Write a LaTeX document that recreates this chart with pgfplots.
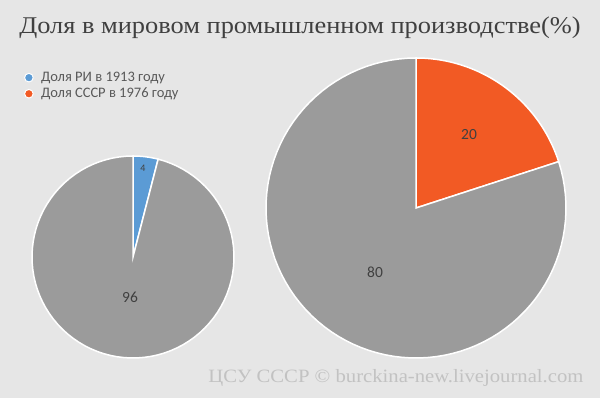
\documentclass[border=0pt]{standalone}
\usepackage{fontspec}
\setmainfont{Liberation Serif}
\newfontfamily\carlito{Carlito}
\newfontfamily\titlefont[FakeStretch=1.1]{Liberation Serif}
\usepackage{pgfplots}
\pgfplotsset{compat=1.18}
\definecolor{bg}{HTML}{E6E6E6}
\definecolor{pgray}{HTML}{9B9B9B}
\definecolor{pblue}{HTML}{5B9BD5}
\definecolor{porange}{HTML}{F25A24}
\definecolor{ttl}{HTML}{404040}
\definecolor{legtxt}{HTML}{595959}
\definecolor{wm}{HTML}{C2C2C2}
% slice: cx, cy, r, start share (%), end share (%), colour
\newcommand{\slice}[6]{%
  \pgfmathsetmacro{\angA}{90-3.6*#5}%
  \pgfmathsetmacro{\angB}{90-3.6*#4}%
  \addplot[fill=#6, draw=white, line width=1.5pt, domain=\angA:\angB, samples=90, variable=\t, forget plot]
    ({#1+#3*cos(\t)},{#2+#3*sin(\t)}) -- (#1,#2) -- cycle;
}
\begin{document}
\begin{tikzpicture}
\fill[bg] (0,0) rectangle (600pt,398pt);
\begin{axis}[
  width=600pt, height=398pt, scale only axis,
  xmin=0, xmax=600, ymin=0, ymax=398,
  hide axis, clip=false,
  legend style={at={(axis cs:24,330)}, anchor=north west, draw=none, fill=none,
    font=\carlito\fontsize{14.5}{16}\selectfont, text=legtxt, row sep=1pt,
    inner xsep=0pt},
  legend cell align=left,
  legend image code/.code={\path (0pt,0pt) (14.5pt,0pt); \draw[#1] plot coordinates {(4.5pt,0pt)};},
]
% pie 1: 1913 (share 4 %, rest 96 %)
\slice{133}{141}{101}{0}{4}{pblue}
\slice{133}{141}{101}{4}{100}{pgray}
% pie 2: 1976 (share 20 %, rest 80 %)
\slice{416}{190}{150}{0}{20}{porange}
\slice{416}{190}{150}{20}{100}{pgray}

\addlegendimage{only marks, mark=*, mark size=4.3pt, mark options={fill=pblue, draw=white, line width=1pt}}
\addlegendentry{Доля РИ в 1913 году}
\addlegendimage{only marks, mark=*, mark size=4.3pt, mark options={fill=porange, draw=white, line width=1pt}}
\addlegendentry{Доля СССР в 1976 году}

\node[font=\carlito\fontsize{10}{11}\selectfont, text=ttl] at (axis cs:143,230) {4};
\node[font=\carlito\fontsize{15.5}{17}\selectfont, text=ttl] at (axis cs:130,100.5) {96};
\node[font=\carlito\fontsize{15.5}{17}\selectfont, text=ttl] at (axis cs:469,263) {20};
\node[font=\carlito\fontsize{15.5}{17}\selectfont, text=ttl] at (axis cs:375,126) {80};

\node[font=\titlefont\fontsize{24}{28}\selectfont, text=ttl] at (axis cs:300,370) {Доля в мировом промышленном производстве(\%)};
\node[font=\titlefont\fontsize{18.8}{21}\selectfont, text=wm, anchor=east] at (axis cs:587,20) {ЦСУ СССР © burckina-new.livejournal.com};
\end{axis}
\end{tikzpicture}
\end{document}
